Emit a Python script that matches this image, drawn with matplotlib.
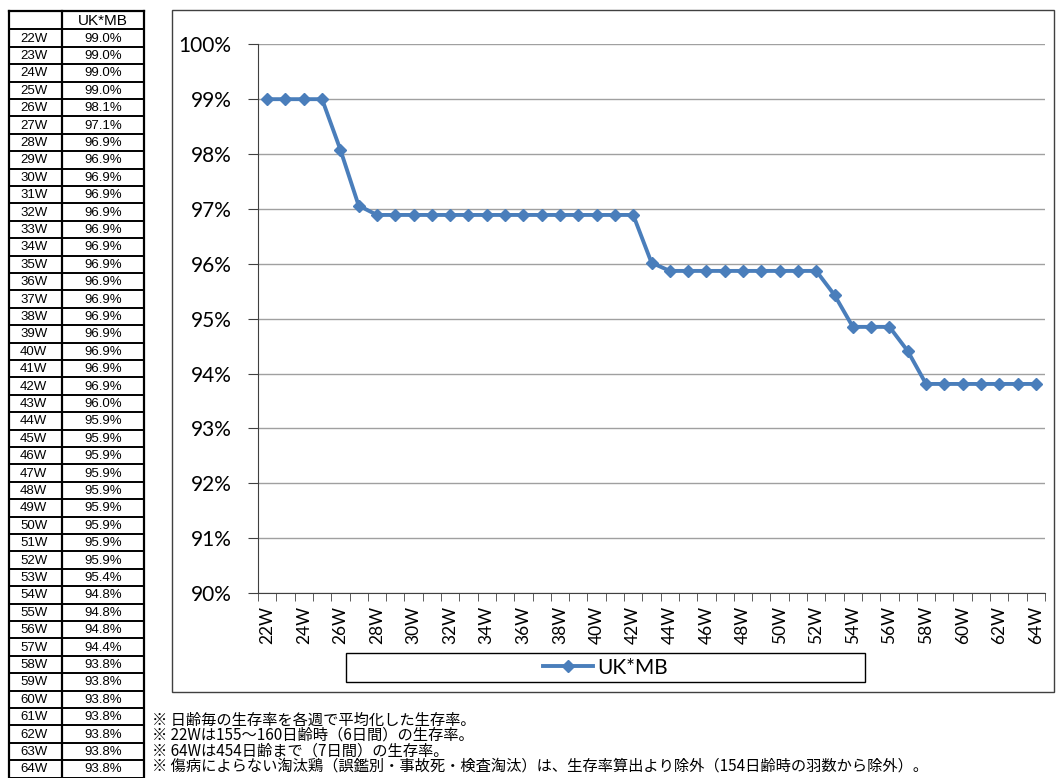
import matplotlib.pyplot as plt
from matplotlib.patches import Rectangle
from matplotlib.ticker import FixedLocator, PercentFormatter

plt.rcParams["font.family"] = ["Lato", "DejaVu Sans"]

weeks = ["22W", "23W", "24W", "25W", "26W", "27W", "28W", "29W", "30W", "31W",
         "32W", "33W", "34W", "35W", "36W", "37W", "38W", "39W", "40W", "41W",
         "42W", "43W", "44W", "45W", "46W", "47W", "48W", "49W", "50W", "51W",
         "52W", "53W", "54W", "55W", "56W", "57W", "58W", "59W", "60W", "61W",
         "62W", "63W", "64W"]
survival = [99.0, 99.0, 99.0, 99.0, 98.08, 97.06, 96.89, 96.89, 96.89, 96.89,
            96.89, 96.89, 96.89, 96.89, 96.89, 96.89, 96.89, 96.89, 96.89, 96.89,
            96.89, 96.02, 95.87, 95.87, 95.87, 95.87, 95.87, 95.87, 95.87, 95.87,
            95.87, 95.43, 94.85, 94.85, 94.85, 94.41, 93.81, 93.81, 93.81, 93.81,
            93.81, 93.81, 93.81]
series_name = "UK*MB"
notes = [
    "※ 日齢毎の生存率を各週で平均化した生存率。",
    "※ 22Wは155～160日齢時（6日間）の生存率。",
    "※ 64Wは454日齢まで（7日間）の生存率。",
    "※ 傷病によらない淘汰鶏（誤鑑別・事故死・検査淘汰）は、生存率算出より除外（154日齢時の羽数から除外）。",
]

W, H = 1056, 778
fig = plt.figure(figsize=(W / 100, H / 100), dpi=100)

# overlay in pixel coordinates for the table, frames and notes
ov = fig.add_axes([0, 0, 1, 1])
ov.set_xlim(0, W)
ov.set_ylim(H, 0)
ov.axis("off")

# chart frame
ov.add_patch(Rectangle((172, 10), 882, 682, fill=False, ec="#404040", lw=1))

# data table on the left
tx0, tx1, tx2 = 9, 62, 144
top, head_h, row_h = 10.7, 18.7, 17.4
bottom = top + head_h + row_h * len(weeks)
tfont = dict(family=["Liberation Sans", "DejaVu Sans"], fontsize=9.5, va="center")
for x in (tx0, tx1, tx2):
    ov.plot([x, x], [top, bottom], color="black", lw=1.6)
ov.plot([tx0, tx2], [top, top], color="black", lw=1.6)
ov.text((tx1 + tx2) / 2, top + head_h / 2 + 0.5, series_name, ha="center",
        **{**tfont, "fontsize": 11})
for i, (wk, val) in enumerate(zip(weeks, survival)):
    y0 = top + head_h + i * row_h
    ov.plot([tx0, tx2], [y0, y0], color="black", lw=1.4)
    ov.text(tx0 + 11, y0 + row_h / 2 + 0.5, wk, ha="left", **tfont)
    ov.text((tx1 + tx2) / 2, y0 + row_h / 2 + 0.5, f"{val:.1f}%", ha="center", **tfont)
ov.plot([tx0, tx2], [bottom, bottom], color="black", lw=1.4)

# notes under the chart
for i, note in enumerate(notes):
    ov.text(152, 720 + i * 15.5, note, fontsize=11, va="center",
            family=["Noto Sans CJK JP", "DejaVu Sans"])

# legend frame
ov.add_patch(Rectangle((346, 653), 519, 29, fill=False, ec="black", lw=1))

# line chart
ax = fig.add_axes([258 / W, 1 - 593 / H, (1045 - 258) / W, (593 - 44.3) / H])
x = range(len(weeks))
ax.plot(x, survival, color="#4A7EBB", lw=2.8, marker="D", ms=6.5, label=series_name)
ax.set_xlim(-0.5, len(weeks) - 0.5)
ax.set_ylim(90, 100)
ax.set_yticks(range(90, 101))
ax.yaxis.set_major_formatter(PercentFormatter(decimals=0))
ax.grid(axis="y", color="#A0A0A0", lw=1)
ax.set_axisbelow(True)
for side in ("top", "right"):
    ax.spines[side].set_visible(False)
for side in ("left", "bottom"):
    ax.spines[side].set_color("#404040")

ax.set_xticks(list(x)[::2])
ax.set_xticklabels(weeks[::2])
ax.xaxis.set_minor_locator(FixedLocator([i - 0.5 for i in range(len(weeks) + 1)]))
ax.tick_params(axis="x", which="major", length=0, pad=9.5, labelsize=12.5, rotation=90)
ax.tick_params(axis="x", which="minor", length=6, color="#404040")
ax.tick_params(axis="y", length=7, pad=12, labelsize=15, color="#404040")

ax.legend(loc="center", bbox_to_anchor=(605.5 / W, 1 - 667.5 / H),
          bbox_transform=fig.transFigure, frameon=False, fontsize=15,
          handlelength=2.4, handletextpad=0.2)

fig.savefig("out.png", dpi=100)
